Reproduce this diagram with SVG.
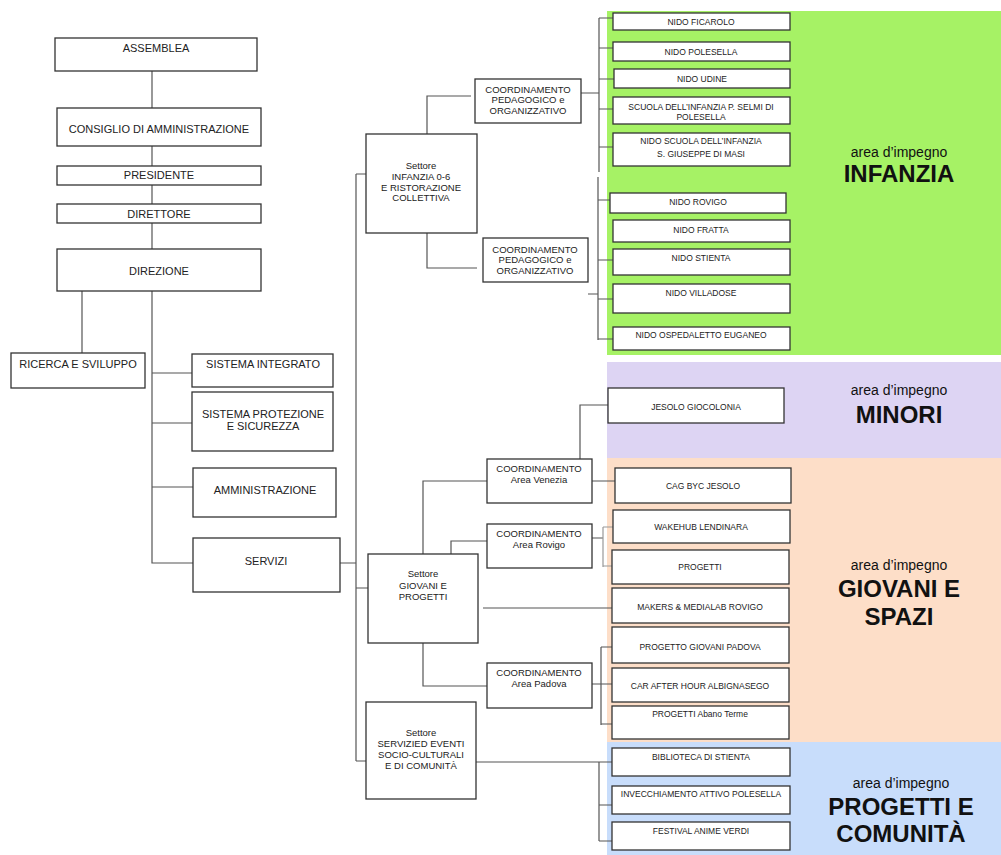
<svg xmlns="http://www.w3.org/2000/svg" width="1001" height="855" viewBox="0 0 1001 855">
<style>
.b{fill:#fff;stroke:#333;stroke-width:1.3}
.t{font-family:"Liberation Sans",Arial,sans-serif;fill:#222;text-anchor:middle}
.l{font-size:11px}
.m{font-size:9.5px}
.s{font-size:8.5px}
.c{stroke:#555;stroke-width:1.2;fill:none}
.cl{stroke:#999;stroke-width:1.2;fill:none}
.as{font-family:"Liberation Sans",Arial,sans-serif;font-size:14px;fill:#111;text-anchor:middle}
.ab{font-family:"Liberation Sans",Arial,sans-serif;font-size:24px;font-weight:bold;fill:#111;text-anchor:middle}
</style>
<rect width="1001" height="855" fill="#fff"/>
<g id="areas">
<rect x="607" y="11" width="394" height="344" fill="#A6F265"/>
<rect x="607" y="362" width="394" height="96" fill="#DDD4F3"/>
<rect x="607" y="458" width="394" height="284" fill="#FDDEC8"/>
<rect x="607" y="742" width="394" height="113" fill="#C8DDFB"/>
<text class="as" x="899" y="157">area d’impegno</text>
<text class="ab" x="899" y="182">INFANZIA</text>
<text class="as" x="899" y="395">area d’impegno</text>
<text class="ab" x="899" y="423">MINORI</text>
<text class="as" x="899" y="570">area d’impegno</text>
<text class="ab" x="899" y="597">GIOVANI E</text>
<text class="ab" x="899" y="625">SPAZI</text>
<text class="as" x="901" y="788">area d’impegno</text>
<text class="ab" x="901" y="815">PROGETTI E</text>
<text class="ab" x="901" y="842">COMUNITÀ</text>
</g>
<g id="connectors">
<path class="c" d="M152 71V249M82 291V353M152 291V563H193M152 373H192M152 423H192M152 487H193M340 563H356M356 174V761M356 174H366M356 588H368M356 761H366"/>
<path class="c" d="M427 134V96H471M427 233V268H477M581 93H599M599 18V172M599 18H613M599 48H613M599 79H614M599 109H613M599 147H613M588 294H598M598 177V340M598 200H610M598 260H613M598 299H613M598 339H613"/>
<path class="c" d="M423 554V481H487M451 554V541H487M580 459V405H608M592 481H615M592 538H603M483 608H612M423 643V686H487M592 684H612M601 647V725M601 647H612M601 724H612M476 762H612M599 762V841M599 805H612M599 841H612"/>
<path class="cl" d="M603 527V567M603 527H613M603 566H612"/>
</g>
<g id="assemblea"><rect class="b" x="55" y="38" width="202" height="33"/><text class="t l" x="156" y="52">ASSEMBLEA</text></g>
<g id="consiglio"><rect class="b" x="57" y="108" width="204" height="38"/><text class="t l" x="159" y="133">CONSIGLIO DI AMMINISTRAZIONE</text></g>
<g id="presidente"><rect class="b" x="57" y="166" width="204" height="19"/><text class="t l" x="159" y="179">PRESIDENTE</text></g>
<g id="direttore"><rect class="b" x="57" y="204" width="204" height="19"/><text class="t l" x="159" y="218">DIRETTORE</text></g>
<g id="direzione"><rect class="b" x="57" y="249" width="204" height="42"/><text class="t l" x="159" y="275">DIREZIONE</text></g>
<g id="ricerca"><rect class="b" x="11" y="353" width="134" height="35"/><text class="t l" x="78" y="368">RICERCA E SVILUPPO</text></g>
<g id="sistema-integrato"><rect class="b" x="192" y="354" width="141" height="33"/><text class="t l" x="263" y="368">SISTEMA INTEGRATO</text></g>
<g id="sistema-protezione"><rect class="b" x="192" y="392" width="141" height="59"/><text class="t l" x="263" y="418">SISTEMA PROTEZIONE</text><text class="t l" x="263" y="430">E SICUREZZA</text></g>
<g id="amministrazione"><rect class="b" x="193" y="468" width="143" height="49"/><text class="t l" x="265" y="494">AMMINISTRAZIONE</text></g>
<g id="servizi"><rect class="b" x="193" y="538" width="147" height="54"/><text class="t l" x="266" y="565">SERVIZI</text></g>
<g id="settore-infanzia"><rect class="b" x="366" y="134" width="111" height="99"/><text class="t m" x="421" y="169">Settore</text><text class="t m" x="421" y="180">INFANZIA 0-6</text><text class="t m" x="421" y="191">E RISTORAZIONE</text><text class="t m" x="421" y="201">COLLETTIVA</text></g>
<g id="coord-ped-1"><rect class="b" x="475" y="79" width="106" height="44"/><text class="t m" x="528" y="93">COORDINAMENTO</text><text class="t m" x="528" y="103">PEDAGOGICO e</text><text class="t m" x="528" y="114">ORGANIZZATIVO</text></g>
<g id="coord-ped-2"><rect class="b" x="483" y="238" width="105" height="44"/><text class="t m" x="535" y="253">COORDINAMENTO</text><text class="t m" x="535" y="263">PEDAGOGICO e</text><text class="t m" x="535" y="274">ORGANIZZATIVO</text></g>
<g id="nido-ficarolo"><rect class="b" x="613" y="13" width="177" height="17"/><text class="t s" x="701" y="24.5">NIDO FICAROLO</text></g>
<g id="nido-polesella"><rect class="b" x="613" y="42" width="177" height="19"/><text class="t s" x="701" y="54.5">NIDO POLESELLA</text></g>
<g id="nido-udine"><rect class="b" x="614" y="69" width="176" height="19"/><text class="t s" x="702" y="81.5">NIDO UDINE</text></g>
<g id="scuola-selmi"><rect class="b" x="613" y="97" width="177" height="27"/><text class="t s" x="701" y="110">SCUOLA DELL’INFANZIA P. SELMI DI</text><text class="t s" x="701" y="120">POLESELLA</text></g>
<g id="nido-scuola-masi"><rect class="b" x="613" y="133" width="177" height="33"/><text class="t s" x="701" y="144">NIDO SCUOLA DELL’INFANZIA</text><text class="t s" x="701" y="157">S. GIUSEPPE DI MASI</text></g>
<g id="nido-rovigo"><rect class="b" x="610" y="193" width="176" height="20"/><text class="t s" x="698" y="205">NIDO ROVIGO</text></g>
<g id="nido-fratta"><rect class="b" x="613" y="220" width="177" height="22"/><text class="t s" x="701" y="233">NIDO FRATTA</text></g>
<g id="nido-stienta"><rect class="b" x="613" y="249" width="177" height="26"/><text class="t s" x="701" y="261">NIDO STIENTA</text></g>
<g id="nido-villadose"><rect class="b" x="613" y="284" width="177" height="29"/><text class="t s" x="701" y="296">NIDO VILLADOSE</text></g>
<g id="nido-ospedaletto"><rect class="b" x="613" y="327" width="177" height="23"/><text class="t s" x="701" y="338">NIDO OSPEDALETTO EUGANEO</text></g>
<g id="settore-giovani"><rect class="b" x="368" y="554" width="110" height="89"/><text class="t m" x="423" y="577">Settore</text><text class="t m" x="423" y="589">GIOVANI E</text><text class="t m" x="423" y="600">PROGETTI</text></g>
<g id="coord-venezia"><rect class="b" x="487" y="459" width="105" height="44"/><text class="t m" x="539" y="472">COORDINAMENTO</text><text class="t m" x="539" y="483">Area Venezia</text></g>
<g id="coord-rovigo"><rect class="b" x="487" y="524" width="105" height="44"/><text class="t m" x="539" y="537">COORDINAMENTO</text><text class="t m" x="539" y="548">Area Rovigo</text></g>
<g id="coord-padova"><rect class="b" x="487" y="663" width="105" height="45"/><text class="t m" x="539" y="676">COORDINAMENTO</text><text class="t m" x="539" y="687">Area Padova</text></g>
<g id="settore-eventi"><rect class="b" x="366" y="702" width="110" height="97"/><text class="t m" x="421" y="736">Settore</text><text class="t m" x="421" y="747">SERVIZIED EVENTI</text><text class="t m" x="421" y="758">SOCIO-CULTURALI</text><text class="t m" x="421" y="769">E DI COMUNITÀ</text></g>
<g id="jesolo-giocolonia"><rect class="b" x="608" y="388" width="176" height="35"/><text class="t s" x="696" y="410">JESOLO GIOCOLONIA</text></g>
<g id="cag-byc"><rect class="b" x="615" y="468" width="176" height="35"/><text class="t s" x="703" y="489">CAG BYC JESOLO</text></g>
<g id="wakehub"><rect class="b" x="613" y="510" width="177" height="33"/><text class="t s" x="701" y="530">WAKEHUB LENDINARA</text></g>
<g id="progetti"><rect class="b" x="612" y="550" width="177" height="34"/><text class="t s" x="700" y="570">PROGETTI</text></g>
<g id="makers"><rect class="b" x="612" y="588" width="177" height="35"/><text class="t s" x="700" y="610">MAKERS &amp; MEDIALAB ROVIGO</text></g>
<g id="progetto-giovani-padova"><rect class="b" x="612" y="627" width="177" height="36"/><text class="t s" x="700" y="650">PROGETTO GIOVANI PADOVA</text></g>
<g id="car-after-hour"><rect class="b" x="612" y="668" width="177" height="34"/><text class="t s" x="700" y="689">CAR AFTER HOUR ALBIGNASEGO</text></g>
<g id="progetti-abano"><rect class="b" x="612" y="706" width="177" height="33"/><text class="t s" x="700" y="717">PROGETTI Abano Terme</text></g>
<g id="biblioteca"><rect class="b" x="612" y="748" width="178" height="28"/><text class="t s" x="701" y="760">BIBLIOTECA DI STIENTA</text></g>
<g id="invecchiamento"><rect class="b" x="612" y="786" width="178" height="28"/><text class="t s" x="701" y="797">INVECCHIAMENTO ATTIVO POLESELLA</text></g>
<g id="festival"><rect class="b" x="612" y="822" width="178" height="28"/><text class="t s" x="701" y="834">FESTIVAL ANIME VERDI</text></g>
</svg>
